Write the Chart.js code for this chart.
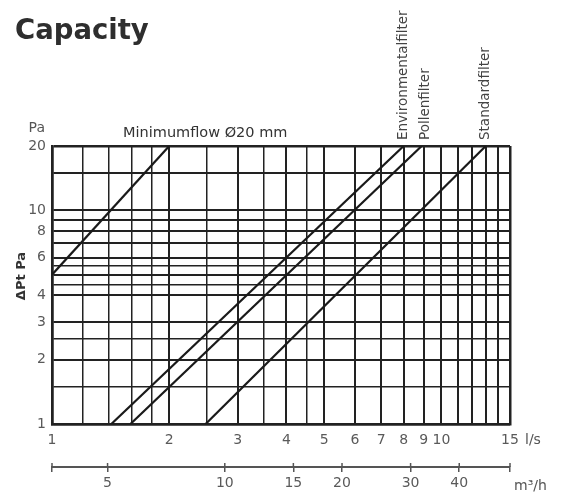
<!DOCTYPE html>
<html lang="en">
<head>
<meta charset="UTF-8">
<title>Capacity</title>
<script src="https://cdn.jsdelivr.net/npm/chart.js"></script>
<style>
  body { margin: 0; background: #fff; }
</style>
</head>
<body>
<canvas id="capChart" width="564" height="493"></canvas>
<script>
// flow in l/s, pressure drop in Pa (log-log)
const minFlow = [1, 2];
const minPa = [5, 20];
const envFlow = [1.42, 8.0];
const envPa = [1, 20];
const pollenFlow = [1.59, 8.9];
const pollenPa = [1, 20];
const stdFlow = [2.48, 13.0];
const stdPa = [1, 20];

const xGrid = [1, 1.2, 1.4, 1.6, 1.8, 2, 2.5, 3, 3.5, 4, 4.5, 5, 6, 7, 8, 9, 10, 11, 12, 13, 14, 15];
const xLabels = [1, 2, 3, 4, 5, 6, 7, 8, 9, 10, 15];
const yGrid = [1, 1.5, 2, 2.5, 3, 4, 4.5, 5, 5.5, 6, 7, 8, 9, 10, 15, 20];
const yLabels = [1, 2, 3, 4, 6, 8, 10, 20];
const m3hTicks = [5, 10, 15, 20, 30, 40];

function pts(xs, ys) {
    return xs.map((v, i) => ({ x: v, y: ys[i] }));
}

const tickFont = { family: 'DejaVu Sans', size: 14 };
const gray = '#5a5a5a';

function gridWidth(ctx, edges) {
    if (!ctx.tick) return 2;
    const v = ctx.tick.value;
    if (edges.includes(v)) return 2.5;
    return Number.isInteger(v) ? 2 : 1.5;
}

const labelsPlugin = {
    id: 'labels',
    afterDraw(chart) {
        const c = chart.ctx;
        const { x, y, x2 } = chart.scales;
        const area = chart.chartArea;
        c.save();
        c.fillStyle = '#555';
        c.font = '14px "DejaVu Sans"';
        c.textBaseline = 'middle';
        c.textAlign = 'left';
        c.fillText('l/s', x.getPixelForValue(15) + 15, 440);
        c.fillText('m\u00b3/h', x2.right + 4, 486);
        c.textAlign = 'right';
        c.fillText('Pa', y.right - 7, area.top - 18);
        c.textAlign = 'left';
        c.font = '14.5px "DejaVu Sans"';
        c.fillStyle = '#333';
        c.fillText('Minimumflow \u00d820 mm', 123, area.top - 13);

        // y axis title, a bit above the middle
        c.save();
        c.translate(area.left - 30, 276);
        c.rotate(-Math.PI / 2);
        c.textAlign = 'center';
        c.font = 'bold 13px "DejaVu Sans"';
        c.fillText('\u0394Pt Pa', 0, 0);
        c.restore();

        // rotated filter names above line ends
        c.font = '13.5px "DejaVu Sans"';
        c.fillStyle = '#444';
        const names = [
            ['Environmentalfilter', envFlow[1], 0],
            ['Pollenfilter', pollenFlow[1], 4],
            ['Standardfilter', stdFlow[1], 0]
        ];
        names.forEach(([txt, v, dx]) => {
            c.save();
            c.translate(x.getPixelForValue(v) + dx, area.top - 6);
            c.rotate(-Math.PI / 2);
            c.textAlign = 'left';
            c.fillText(txt, 0, 0);
            c.restore();
        });

        // m3/h ticks reach above the line too
        c.strokeStyle = '#555';
        c.lineWidth = 1.5;
        const by = x2.top;
        x2.ticks.forEach(t => {
            const px = x2.getPixelForValue(t.value);
            c.beginPath();
            c.moveTo(px, by - 4);
            c.lineTo(px, by);
            c.stroke();
        });
        c.restore();
    }
};

const lineStyle = { borderColor: '#1a1a1a', borderWidth: 2.2, pointRadius: 0, showLine: true, fill: false };

new Chart(document.getElementById('capChart'), {
    type: 'scatter',
    data: {
        datasets: [
            { label: 'Minimumflow', data: pts(minFlow, minPa), ...lineStyle },
            { label: 'Environmentalfilter', data: pts(envFlow, envPa), ...lineStyle },
            { label: 'Pollenfilter', data: pts(pollenFlow, pollenPa), ...lineStyle },
            { label: 'Standardfilter', data: pts(stdFlow, stdPa), ...lineStyle }
        ]
    },
    options: {
        responsive: false,
        animation: false,
        layout: { padding: { left: 15, right: 54, top: 0, bottom: 0 } },
        plugins: {
            legend: { display: false },
            tooltip: { enabled: false },
            title: {
                display: true,
                text: 'Capacity',
                align: 'start',
                color: '#2e2e2e',
                font: { family: 'DejaVu Sans', size: 27.5, weight: 'bold', lineHeight: 1.2 },
                padding: { top: 15, bottom: 98 }
            }
        },
        scales: {
            x: {
                type: 'logarithmic',
                position: 'bottom',
                min: 1,
                max: 15,
                afterBuildTicks: s => { s.ticks = xGrid.map(v => ({ value: v })); },
                afterFit: s => { s.height = 43; },
                ticks: {
                    autoSkip: false,
                    maxRotation: 0,
                    padding: 8,
                    color: gray,
                    font: tickFont,
                    callback: v => xLabels.includes(v) ? String(v) : ''
                },
                grid: {
                    drawTicks: false,
                    color: '#222',
                    lineWidth: ctx => gridWidth(ctx, [1, 15])
                },
                border: { display: true, color: '#222', width: 2.5 }
            },
            x2: {
                type: 'logarithmic',
                position: 'bottom',
                weight: 1,
                min: 3.6,
                max: 54,
                afterBuildTicks: s => { s.ticks = [3.6].concat(m3hTicks, [54]).map(v => ({ value: v })); },
                afterFit: s => { s.height = 26; },
                ticks: {
                    autoSkip: false,
                    maxRotation: 0,
                    padding: 3,
                    color: gray,
                    font: tickFont,
                    callback: v => m3hTicks.includes(v) ? String(v) : ''
                },
                grid: {
                    drawOnChartArea: false,
                    drawTicks: true,
                    tickLength: 5,
                    color: '#555',
                    lineWidth: 1.5
                },
                border: { display: true, color: '#555', width: 2 }
            },
            y: {
                type: 'logarithmic',
                min: 1,
                max: 20,
                afterBuildTicks: s => { s.ticks = yGrid.map(v => ({ value: v })); },
                afterFit: s => { s.width = 37; },
                ticks: {
                    autoSkip: false,
                    padding: 6,
                    color: gray,
                    font: tickFont,
                    callback: v => yLabels.includes(v) ? String(v) : ''
                },
                grid: {
                    drawTicks: false,
                    color: '#222',
                    lineWidth: ctx => gridWidth(ctx, [1, 20])
                },
                border: { display: true, color: '#222', width: 2.5 }
            }
        }
    },
    plugins: [labelsPlugin]
});
</script>
</body>
</html>
